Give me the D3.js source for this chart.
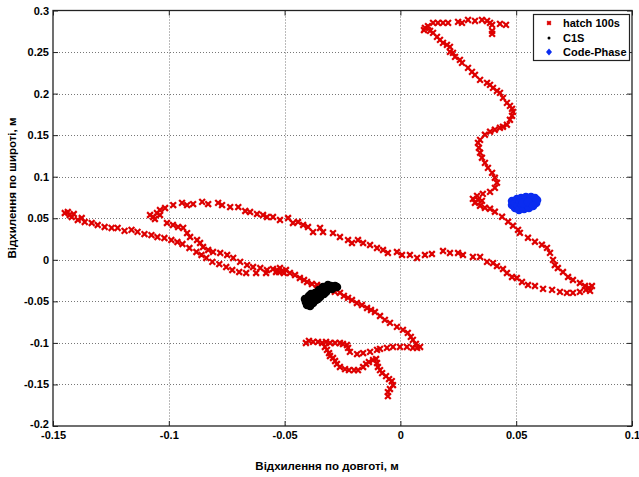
<!DOCTYPE html>
<html><head><meta charset="utf-8">
<script src="https://cdn.jsdelivr.net/npm/d3@7"></script>
<style>body{margin:0;background:#fff}svg{display:block}</style>
</head><body>
<svg id="c" width="639" height="477"></svg>
<script>
const xTicks = [-0.15,-0.1,-0.05,0,0.05,0.1];
const xTickLabels = ["-0.15","-0.1","-0.05","0","0.05","0.1"];
const yTicks = [-0.2,-0.15,-0.1,-0.05,0,0.05,0.1,0.15,0.2,0.25,0.3];
const yTickLabels = ["-0.2","-0.15","-0.1","-0.05","0","0.05","0.1","0.15","0.2","0.25","0.3"];
const seriesNames = ["hatch 100s","C1S","Code-Phase"];
const xTitle = "Відхилення по довготі, м";
const yTitle = "Відхилення по широті, м";

// hatch 100s  [x, y]
const hatch = [
[0.0106,0.2790],[0.0119,0.2813],[0.0102,0.2765],[0.0141,0.2850],[0.0162,0.2850],[0.0184,0.2850],[0.0206,0.2850],
[0.0249,0.2862],[0.0266,0.2850],[0.0292,0.2886],[0.0322,0.2874],[0.0352,0.2886],[0.0374,0.2874],[0.0387,0.2850],
[0.0396,0.2826],[0.0430,0.2838],[0.0456,0.2826],[0.0396,0.2754],[0.0396,0.2718],
[0.0128,0.2754],[0.0141,0.2730],[0.0158,0.2682],[0.0171,0.2646],[0.0184,0.2610],[0.0201,0.2586],[0.0214,0.2562],
[0.0214,0.2502],[0.0227,0.2490],[0.0236,0.2442],[0.0257,0.2406],[0.0266,0.2370],[0.0292,0.2310],[0.0309,0.2262],
[0.0322,0.2226],[0.0344,0.2166],[0.0374,0.2130],[0.0387,0.2105],[0.0400,0.2069],[0.0417,0.2033],[0.0430,0.2009],
[0.0443,0.1949],[0.0460,0.1889],[0.0473,0.1853],[0.0482,0.1817],[0.0486,0.1781],[0.0482,0.1733],[0.0473,0.1685],
[0.0460,0.1625],[0.0443,0.1601],[0.0430,0.1589],[0.0408,0.1565],[0.0387,0.1541],[0.0365,0.1505],[0.0344,0.1444],
[0.0335,0.1408],[0.0339,0.1348],[0.0344,0.1288],[0.0352,0.1228],[0.0365,0.1167],[0.0378,0.1107],[0.0396,0.1047],
[0.0408,0.0987],[0.0417,0.0927],[0.0408,0.0866],[0.0387,0.0818],[0.0356,0.0794],[0.0331,0.0770],[0.0313,0.0734],
[0.0322,0.0686],[0.0344,0.0650],[0.0365,0.0626],[0.0335,0.0722],[0.0352,0.0710],
[0.0387,0.0614],[0.0408,0.0578],[0.0439,0.0518],[0.0465,0.0458],[0.0486,0.0410],[0.0508,0.0361],[0.0516,0.0325],
[0.0551,0.0265],[0.0581,0.0217],[0.0611,0.0181],[0.0633,0.0144],[0.0646,0.0084],[0.0659,-0.0002],[0.0667,-0.0063],
[0.0680,-0.0099],[0.0702,-0.0147],[0.0724,-0.0207],[0.0745,-0.0243],[0.0775,-0.0279],[0.0797,-0.0315],[0.0814,-0.0339],
[0.0827,-0.0315],[0.0819,-0.0375],[0.0801,-0.0363],
[0.0775,-0.0387],[0.0745,-0.0399],[0.0719,-0.0399],[0.0689,-0.0387],[0.0655,-0.0363],[0.0616,-0.0351],[0.0581,-0.0315],
[0.0551,-0.0303],[0.0525,-0.0267],[0.0503,-0.0219],[0.0482,-0.0207],[0.0460,-0.0159],[0.0443,-0.0111],[0.0417,-0.0075],
[0.0400,-0.0039],[0.0374,-0.0026],[0.0344,0.0034],[0.0313,0.0034],[0.0270,0.0058],[0.0249,0.0082],[0.0214,0.0082],
[0.0184,0.0106],[0.0136,0.0070],[0.0106,0.0058],
[0.0072,0.0022],[0.0041,0.0058],[0.0007,0.0058],[-0.0015,0.0094],[-0.0054,0.0082],[-0.0075,0.0118],[-0.0101,0.0142],
[-0.0131,0.0178],[-0.0161,0.0202],[-0.0183,0.0238],[-0.0209,0.0202],[-0.0226,0.0238],[-0.0261,0.0274],[-0.0291,0.0322],
[-0.0334,0.0334],[-0.0347,0.0383],[-0.0377,0.0334],[-0.0399,0.0395],[-0.0420,0.0419],[-0.0442,0.0455],[-0.0464,0.0443],
[-0.0485,0.0503],[-0.0520,0.0479],[-0.0550,0.0515],
[-0.0576,0.0515],[-0.0593,0.0539],[-0.0619,0.0551],[-0.0649,0.0575],[-0.0670,0.0587],[-0.0700,0.0635],[-0.0735,0.0635],
[-0.0770,0.0659],[-0.0787,0.0684],[-0.0830,0.0671],[-0.0856,0.0696],[-0.0895,0.0671],[-0.0921,0.0659],[-0.0943,0.0684],
[-0.0981,0.0659],[-0.1016,0.0623],[-0.1038,0.0599],[-0.1051,0.0563],[-0.1068,0.0515],[-0.1060,0.0491],[-0.1038,0.0539],
[-0.1081,0.0539],
[-0.1008,0.0443],[-0.0982,0.0419],[-0.0960,0.0395],[-0.0938,0.0383],[-0.0921,0.0322],[-0.0908,0.0274],[-0.0878,0.0238],
[-0.0865,0.0202],[-0.0852,0.0154],[-0.0830,0.0118],[-0.0809,0.0094],[-0.0778,0.0082],[-0.0748,0.0058],[-0.0722,0.0022],
[-0.0692,-0.0026],[-0.0662,-0.0063],[-0.0636,-0.0087],[-0.0605,-0.0099],[-0.0576,-0.0123],[-0.0550,-0.0111],
[-0.0533,-0.0123],[-0.0520,-0.0099],[-0.0507,-0.0135],[-0.0494,-0.0123],[-0.0503,-0.0159],[-0.0524,-0.0147],
[-0.1449,0.0563],[-0.1436,0.0575],[-0.1428,0.0539],[-0.1419,0.0515],[-0.1410,0.0551],[-0.1393,0.0479],[-0.1376,0.0503],
[-0.1363,0.0455],[-0.1333,0.0443],[-0.1307,0.0419],[-0.1277,0.0395],[-0.1247,0.0383],[-0.1221,0.0383],[-0.1191,0.0347],
[-0.1161,0.0359],[-0.1135,0.0335],[-0.1105,0.0310],[-0.1075,0.0298],[-0.1049,0.0274],[-0.1019,0.0262],[-0.0989,0.0238],
[-0.0963,0.0214],[-0.0941,0.0190],[-0.0911,0.0142],[-0.0881,0.0094],[-0.0859,0.0058],[-0.0838,0.0022],[-0.0812,-0.0026],
[-0.0782,-0.0051],[-0.0752,-0.0087],[-0.0726,-0.0123],[-0.0696,-0.0147],[-0.0666,-0.0159],[-0.0623,-0.0159],
[-0.0580,-0.0159],[-0.0537,-0.0147],
[-0.0477,-0.0159],[-0.0455,-0.0183],[-0.0434,-0.0219],[-0.0416,-0.0243],[-0.0403,-0.0267],[-0.0382,-0.0291],
[-0.0360,-0.0303],[-0.0339,-0.0327],[-0.0304,-0.0363],[-0.0283,-0.0387],[-0.0261,-0.0399],[-0.0244,-0.0435],
[-0.0226,-0.0459],[-0.0209,-0.0484],[-0.0188,-0.0520],[-0.0166,-0.0544],[-0.0144,-0.0580],[-0.0127,-0.0604],
[-0.0110,-0.0628],[-0.0088,-0.0676],[-0.0067,-0.0724],[-0.0045,-0.0760],[-0.0015,-0.0808],[0.0011,-0.0844],
[0.0032,-0.0880],[0.0045,-0.0928],[0.0054,-0.0964],[0.0067,-0.1012],[0.0085,-0.1049],[0.0072,-0.1061],
[0.0054,-0.1061],[0.0028,-0.1049],[-0.0002,-0.1049],[-0.0032,-0.1049],[-0.0058,-0.1061],[-0.0088,-0.1073],
[-0.0101,-0.1085],[-0.0131,-0.1109],[-0.0161,-0.1122],[-0.0187,-0.1134],[-0.0218,-0.1109],[-0.0226,-0.1061],
[-0.0231,-0.1025],[-0.0248,-0.1013],[-0.0261,-0.1001],[-0.0282,-0.1001],[-0.0304,-0.1001],[-0.0321,-0.0988],
[-0.0338,-0.1001],[-0.0356,-0.0988],[-0.0377,-0.0988],[-0.0395,-0.0976],[-0.0408,-0.1001],
[-0.0326,-0.1049],[-0.0317,-0.1085],[-0.0308,-0.1122],[-0.0304,-0.1158],[-0.0291,-0.1182],[-0.0282,-0.1218],
[-0.0274,-0.1254],[-0.0261,-0.1290],[-0.0239,-0.1315],[-0.0222,-0.1327],[-0.0200,-0.1327],[-0.0183,-0.1327],
[-0.0161,-0.1290],[-0.0148,-0.1254],[-0.0136,-0.1230],[-0.0118,-0.1206],[-0.0105,-0.1194],[-0.0101,-0.1242],
[-0.0097,-0.1290],[-0.0088,-0.1327],[-0.0079,-0.1363],[-0.0062,-0.1399],[-0.0049,-0.1435],[-0.0037,-0.1459],
[-0.0032,-0.1507],[-0.0045,-0.1555],[-0.0054,-0.1592],[-0.0054,-0.1640]
];

// C1S [x, y]
const c1s = [
[-0.0408,-0.0508],[-0.0399,-0.0472],[-0.0390,-0.0532],[-0.0382,-0.0484],[-0.0373,-0.0448],[-0.0377,-0.0520],
[-0.0364,-0.0436],[-0.0364,-0.0484],[-0.0356,-0.0412],[-0.0347,-0.0448],[-0.0347,-0.0388],[-0.0339,-0.0363],
[-0.0330,-0.0412],[-0.0326,-0.0351],[-0.0317,-0.0339],[-0.0308,-0.0327],[-0.0300,-0.0315],[-0.0291,-0.0327],
[-0.0282,-0.0315],[-0.0274,-0.0327],[-0.0321,-0.0388],[-0.0356,-0.0472],[-0.0395,-0.0436],[-0.0386,-0.0412],
[-0.0369,-0.0400],[-0.0352,-0.0363],[-0.0334,-0.0327],[-0.0313,-0.0303],[-0.0295,-0.0351],[-0.0390,-0.0556],
[-0.0403,-0.0544],[-0.0412,-0.0472]
];

// Code-Phase [x, y]
const codePhase = [
[0.0482,0.0659],[0.0482,0.0708],[0.0495,0.0623],[0.0495,0.0684],[0.0503,0.0732],[0.0508,0.0647],[0.0512,0.0599],
[0.0516,0.0696],[0.0521,0.0744],[0.0525,0.0659],[0.0534,0.0611],[0.0538,0.0708],[0.0542,0.0756],[0.0547,0.0659],
[0.0555,0.0623],[0.0560,0.0720],[0.0564,0.0756],[0.0568,0.0672],[0.0577,0.0708],[0.0581,0.0744],[0.0586,0.0684],
[0.0590,0.0720],[0.0529,0.0684],[0.0551,0.0696],[0.0573,0.0647]
];

const svg = d3.select("#c");
const L = 53, R = 632, T = 10.5, B = 426;
const x = d3.scaleLinear().domain([-0.15, 0.1]).range([L, R]);
const y = d3.scaleLinear().domain([-0.2, 0.3]).range([B, T]);
const font = "'Liberation Sans', Arial, sans-serif";

// grid
const grid = svg.append("g").attr("stroke", "#777").attr("stroke-width", 1).attr("stroke-dasharray", "1,2");
grid.selectAll("line.vx").data(xTicks.slice(1, -1)).join("line")
  .attr("x1", d => Math.round(x(d)) + 0.5).attr("x2", d => Math.round(x(d)) + 0.5).attr("y1", T).attr("y2", B);
grid.selectAll("line.hy").data(yTicks.slice(1, -1)).join("line")
  .attr("y1", d => Math.round(y(d)) + 0.5).attr("y2", d => Math.round(y(d)) + 0.5).attr("x1", L).attr("x2", R);

// data marks
const gH = svg.append("g").attr("stroke", "#dd0000").attr("stroke-width", 2.2).attr("stroke-linecap", "square");
const s = 2.1;
gH.selectAll("path").data(hatch).join("path")
  .attr("d", d => { const px = x(d[0]), py = y(d[1]);
    return `M${px-s},${py-s}L${px+s},${py+s}M${px-s},${py+s}L${px+s},${py-s}`; });

svg.append("g").attr("fill", "#000").selectAll("circle").data(c1s).join("circle")
  .attr("cx", d => x(d[0])).attr("cy", d => y(d[1])).attr("r", 4.3);

svg.append("g").attr("fill", "#0a2cf0").selectAll("circle").data(codePhase).join("circle")
  .attr("cx", d => x(d[0])).attr("cy", d => y(d[1])).attr("r", 4.3);

// axes
function styleAxis(g) {
  g.select(".domain").remove();
  g.selectAll(".tick line").attr("stroke", "#222");
  g.selectAll(".tick text").attr("fill", "#000").style("font-family", font)
    .style("font-size", "11px").style("font-weight", "bold");
}
svg.append("g").attr("transform", `translate(0,${B})`)
  .call(d3.axisBottom(x).tickValues(xTicks).tickFormat((d, i) => xTickLabels[i]).tickSizeInner(-5).tickSizeOuter(0).tickPadding(5))
  .call(styleAxis);
svg.append("g").attr("transform", `translate(0,${T})`)
  .call(d3.axisTop(x).tickValues(xTicks).tickFormat("").tickSizeInner(-5).tickSizeOuter(0))
  .call(styleAxis);
const yAxisG = svg.append("g").attr("transform", `translate(${L},0)`)
  .call(d3.axisLeft(y).tickValues(yTicks).tickFormat((d, i) => yTickLabels[i]).tickSizeInner(-5).tickSizeOuter(0).tickPadding(4))
  .call(styleAxis);
// the bottom label sits a little higher, as in the reference
yAxisG.selectAll(".tick text").filter(d => d === -0.2).attr("dy", "0.1em");
svg.append("g").attr("transform", `translate(${R},0)`)
  .call(d3.axisRight(y).tickValues(yTicks).tickFormat("").tickSizeInner(-5).tickSizeOuter(0))
  .call(styleAxis);

// box
svg.append("rect").attr("x", L).attr("y", T).attr("width", R - L).attr("height", B - T)
  .attr("fill", "none").attr("stroke", "#222").attr("stroke-width", 1.3);

// titles
svg.append("text").attr("x", 327).attr("y", 470).attr("text-anchor", "middle")
  .style("font-family", font).style("font-size", "11.5px").style("font-weight", "bold").text(xTitle);
svg.append("text").attr("transform", "translate(16,188) rotate(-90)").attr("text-anchor", "middle")
  .style("font-family", font).style("font-size", "11.5px").style("font-weight", "bold").text(yTitle);

// legend
const lg = svg.append("g");
lg.append("rect").attr("x", 533.5).attr("y", 14.5).attr("width", 96).attr("height", 46)
  .attr("fill", "#fff").attr("stroke", "#222").attr("stroke-width", 1.2);
const ly = [23, 38, 52];
seriesNames.forEach((name, i) => {
  lg.append("text").attr("x", 563).attr("y", ly[i] + 4).style("font-family", font)
    .style("font-size", "11px").style("font-weight", "bold").text(name);
});
const mx = 549, ms = 1.8;
lg.append("path").attr("d", `M${mx-ms},${ly[0]-ms}L${mx+ms},${ly[0]+ms}M${mx-ms},${ly[0]+ms}L${mx+ms},${ly[0]-ms}`)
  .attr("stroke", "#dd0000").attr("stroke-width", 2);
lg.append("circle").attr("cx", mx).attr("cy", ly[1]).attr("r", 1.5).attr("fill", "#000");
lg.append("path").attr("d", `M${mx},${ly[2]-3.5}L${mx+3},${ly[2]}L${mx},${ly[2]+3.5}L${mx-3},${ly[2]}Z`).attr("fill", "#0a2cf0");
</script>
</body></html>
